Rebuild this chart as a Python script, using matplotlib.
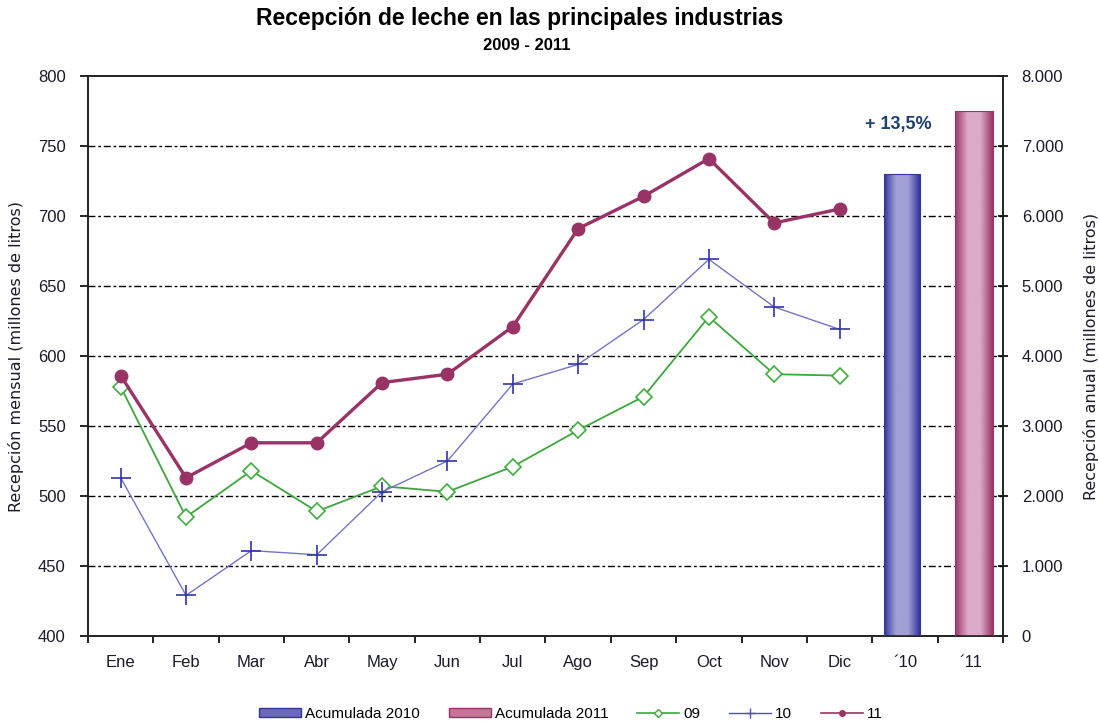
import matplotlib
matplotlib.use("Agg")
import matplotlib.pyplot as plt
import numpy as np
from matplotlib.lines import Line2D
from matplotlib.patches import Patch
import matplotlib.colors as mcolors

months = ["Ene", "Feb", "Mar", "Abr", "May", "Jun", "Jul", "Ago", "Sep", "Oct", "Nov", "Dic"]
bar_labels = ["´10", "´11"]
s09 = [578, 485, 518, 489, 507, 503, 521, 547, 571, 628, 587, 586]
s10 = [513, 429, 461, 458, 503, 525, 580, 594, 626, 669, 635, 619]
s11 = [586, 513, 538, 538, 581, 587, 621, 691, 714, 741, 695, 705]
acum = [6600, 7500]
growth_label = "+ 13,5%"

plt.rcParams['font.family'] = ['Liberation Sans', 'DejaVu Sans']

fig = plt.figure(figsize=(10.99, 7.24), dpi=100)
ax = fig.add_axes([88/1099, 1-636/724, (1003-88)/1099, (636-76)/724])
ax2 = ax.twinx()

x = np.arange(len(months))
tick_col = '#1a1a2a'

# grid lines
for v in [450, 500, 550, 600, 650, 700, 750]:
    ax.axhline(v, color='black', lw=1.0, dashes=(5, 2, 2, 2), zorder=1)

ax.plot(x, s09, color='#3fa63f', lw=1.3, marker='D', markersize=8,
        markerfacecolor='white', markeredgecolor='#3fae3f', markeredgewidth=1.2, zorder=3)
ax.plot(x, s10, color='#7474c8', lw=1.0, marker='+', markersize=14,
        markeredgecolor='#3434a8', markeredgewidth=1.2, zorder=3)
ax.plot(x, s11, color='#993366', lw=2.4, marker='o', markersize=9,
        markerfacecolor='#993366', markeredgecolor='#993366', zorder=4)

ax.set_xlim(-0.5, 13.5)
ax.set_ylim(400, 800)
ax.set_yticks(np.arange(400, 801, 50))
ax.set_xticks(list(range(14)))
ax.set_xticklabels(months + bar_labels)
ax.set_xticks(np.arange(-0.5, 14, 1), minor=True)
ax.tick_params(axis='x', which='major', length=0, pad=14, labelsize=12, labelcolor=tick_col)
ax.tick_params(axis='x', which='minor', length=5, direction='out', width=1.2)
ax.tick_params(axis='y', length=6, direction='out', width=1.2, labelsize=12, labelcolor=tick_col, pad=10)
ax.set_ylabel("Recepción mensual (millones de litros)", fontsize=11.5, color=tick_col, labelpad=10,
              family='DejaVu Sans')

# bars on right axis
bar_x = [12 - 0.05, 13 + 0.06]
widths = [0.55, 0.575]
grads = [('#34349a', '#a0a0d6'), ('#983466', '#dcaac8')]
ax2.set_ylim(0, 8000)
for bx, w, h, (c_edge, c_mid) in zip(bar_x, widths, acum, grads):
    bars = ax2.bar(bx, h, width=w, color='none', edgecolor=c_edge, lw=0.8, zorder=3)
    cmap = mcolors.LinearSegmentedColormap.from_list('g', [c_edge, c_mid, c_mid, c_edge])
    grad = np.linspace(0, 1, 256).reshape(1, -1)
    im = ax2.imshow(grad, cmap=cmap, aspect='auto', extent=[bx - w/2, bx + w/2, 0, h], zorder=2)
    im.set_clip_path(bars[0])
ax2.set_xlim(-0.5, 13.5)
ax2.set_ylim(0, 8000)
ax2.set_yticks(np.arange(0, 8001, 1000))
ax2.set_yticklabels(["0"] + ["{:,}".format(v).replace(",", ".") for v in range(1000, 8001, 1000)])
ax2.tick_params(axis='y', length=7, direction='inout', width=1.2, labelsize=12, labelcolor=tick_col, pad=10)
ax2.set_ylabel("Recepción anual (millones de litros)", fontsize=11.5, color=tick_col, labelpad=14,
               family='DejaVu Sans')
ax2.text(11.9, 7300, growth_label, ha='center', va='center', fontsize=13, fontweight='bold', color='#1f3f6f')

for a in (ax, ax2):
    for sp in a.spines.values():
        sp.set_linewidth(1.2)
        sp.set_color('#222222')

fig.text(520/1099, 1-19/724, "Recepción de leche en las principales industrias", ha='center', va='center',
         fontsize=16.5, fontweight='bold')
fig.text(527/1099, 1-46/724, "2009 - 2011", ha='center', va='center', fontsize=12, fontweight='bold')

handles = [Patch(facecolor='#6a6ab8', edgecolor='#34349a'),
           Patch(facecolor='#c07898', edgecolor='#983466'),
           Line2D([], [], color='#3fa63f', marker='D', markersize=4, markerfacecolor='white', lw=1.2),
           Line2D([], [], color='#5050b8', marker='+', markersize=7, lw=1.0),
           Line2D([], [], color='#993366', marker='o', markersize=4, lw=1.2)]
labels = ["Acumulada 2010", "Acumulada 2011", "09", "10", "11"]
fig.legend(handles, labels, loc='center', bbox_to_anchor=(571/1099, 1-714/724), ncol=5, frameon=False,
           fontsize=11, handlelength=2.75, handleheight=0.6, columnspacing=1.9, handletextpad=0.25)

fig.savefig("out.png", dpi=100)
